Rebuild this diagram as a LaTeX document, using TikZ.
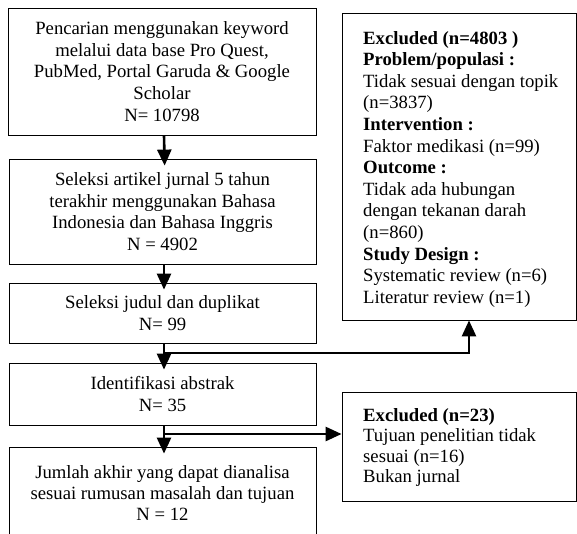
\documentclass[tikz,border=0pt]{standalone}
\usepackage{fontspec}
\setmainfont{Liberation Serif}
\usetikzlibrary{arrows.meta}
\newcommand\myfs{\fontsize{18.7}{21.6}\selectfont}
\newcommand\myfsb{\fontsize{18.7}{20.6}\selectfont}
\begin{document}
\begin{tikzpicture}[x=1pt,y=-1pt,
  box/.style={draw, line width=0.8pt, inner sep=0pt, align=center, font=\myfs},
  frame/.style={draw, line width=0.8pt, inner sep=0pt},
  txt/.style={inner sep=0pt, align=left, font=\myfs},
  conn/.style={line width=2.6pt, line join=miter, -{Triangle[width=14pt,length=16pt]}},
  down/.style={conn, shorten >=-7pt}]
\useasboundingbox (0,0) rectangle (577,533);
\clip (0,0) rectangle (577,533);
% left column
\node[box, minimum width=308pt, minimum height=127pt] (b1) at (162,71.5)
  {Pencarian menggunakan keyword\\melalui data base Pro Quest,\\PubMed, Portal Garuda \& Google\\Scholar\\N= 10798};
\node[box, minimum width=307pt, minimum height=105pt] (b2) at (162.5,211.5)
  {Seleksi artikel jurnal 5 tahun\\terakhir menggunakan Bahasa\\Indonesia dan Bahasa Inggris\\N = 4902};
\node[box, minimum width=307pt, minimum height=60pt] (b3) at (162.5,313)
  {Seleksi judul dan duplikat\\N= 99};
\node[box, minimum width=307pt, minimum height=62pt] (b4) at (162.5,394)
  {Identifikasi abstrak\\N= 35};
\node[box, font=\myfsb, minimum width=307pt, minimum height=92pt] (b5) at (162.5,493)
  {Jumlah akhir yang dapat dianalisa\\sesuai rumusan masalah dan tujuan\\N = 12};
% right column
\node[frame, minimum width=234pt, minimum height=307pt] (ex1) at (459,166.5) {};
\node[txt, anchor=north west] (ex1t) at (363,31)
  {\textbf{Excluded (n=4803 )}\\\textbf{Problem/populasi :}\\Tidak sesuai dengan topik\\(n=3837)\\\textbf{Intervention :}\\Faktor medikasi (n=99)\\\textbf{Outcome :}\\Tidak ada hubungan\\dengan tekanan darah\\(n=860)\\\textbf{Study Design :}\\Systematic review (n=6)\\Literatur review (n=1)};
\node[frame, minimum width=234pt, minimum height=109pt] (ex2) at (459,446.5) {};
\node[txt, font=\myfsb, anchor=north west] (ex2t) at (363,408)
  {\textbf{Excluded (n=23)}\\Tujuan penelitian tidak\\sesuai (n=16)\\Bukan jurnal};
% connectors
\draw[down] ([xshift=2pt]b1.south) -- ([xshift=2pt]b2.north);
\draw[down] ([xshift=1.5pt]b2.south) -- ([xshift=1.5pt]b3.north);
\draw[down] ([xshift=1.5pt]b3.south) -- ([xshift=1.5pt]b4.north);
\draw[down] ([xshift=1.5pt]b4.south) -- ([xshift=1.5pt]b5.north);
\coordinate (j1) at (164,353);
\coordinate (j2) at (164,434);
\draw[conn] (j1) -| ([xshift=10pt]ex1.south);
\draw[conn] (j2) -- (ex2.west |- j2);
\end{tikzpicture}
\end{document}
